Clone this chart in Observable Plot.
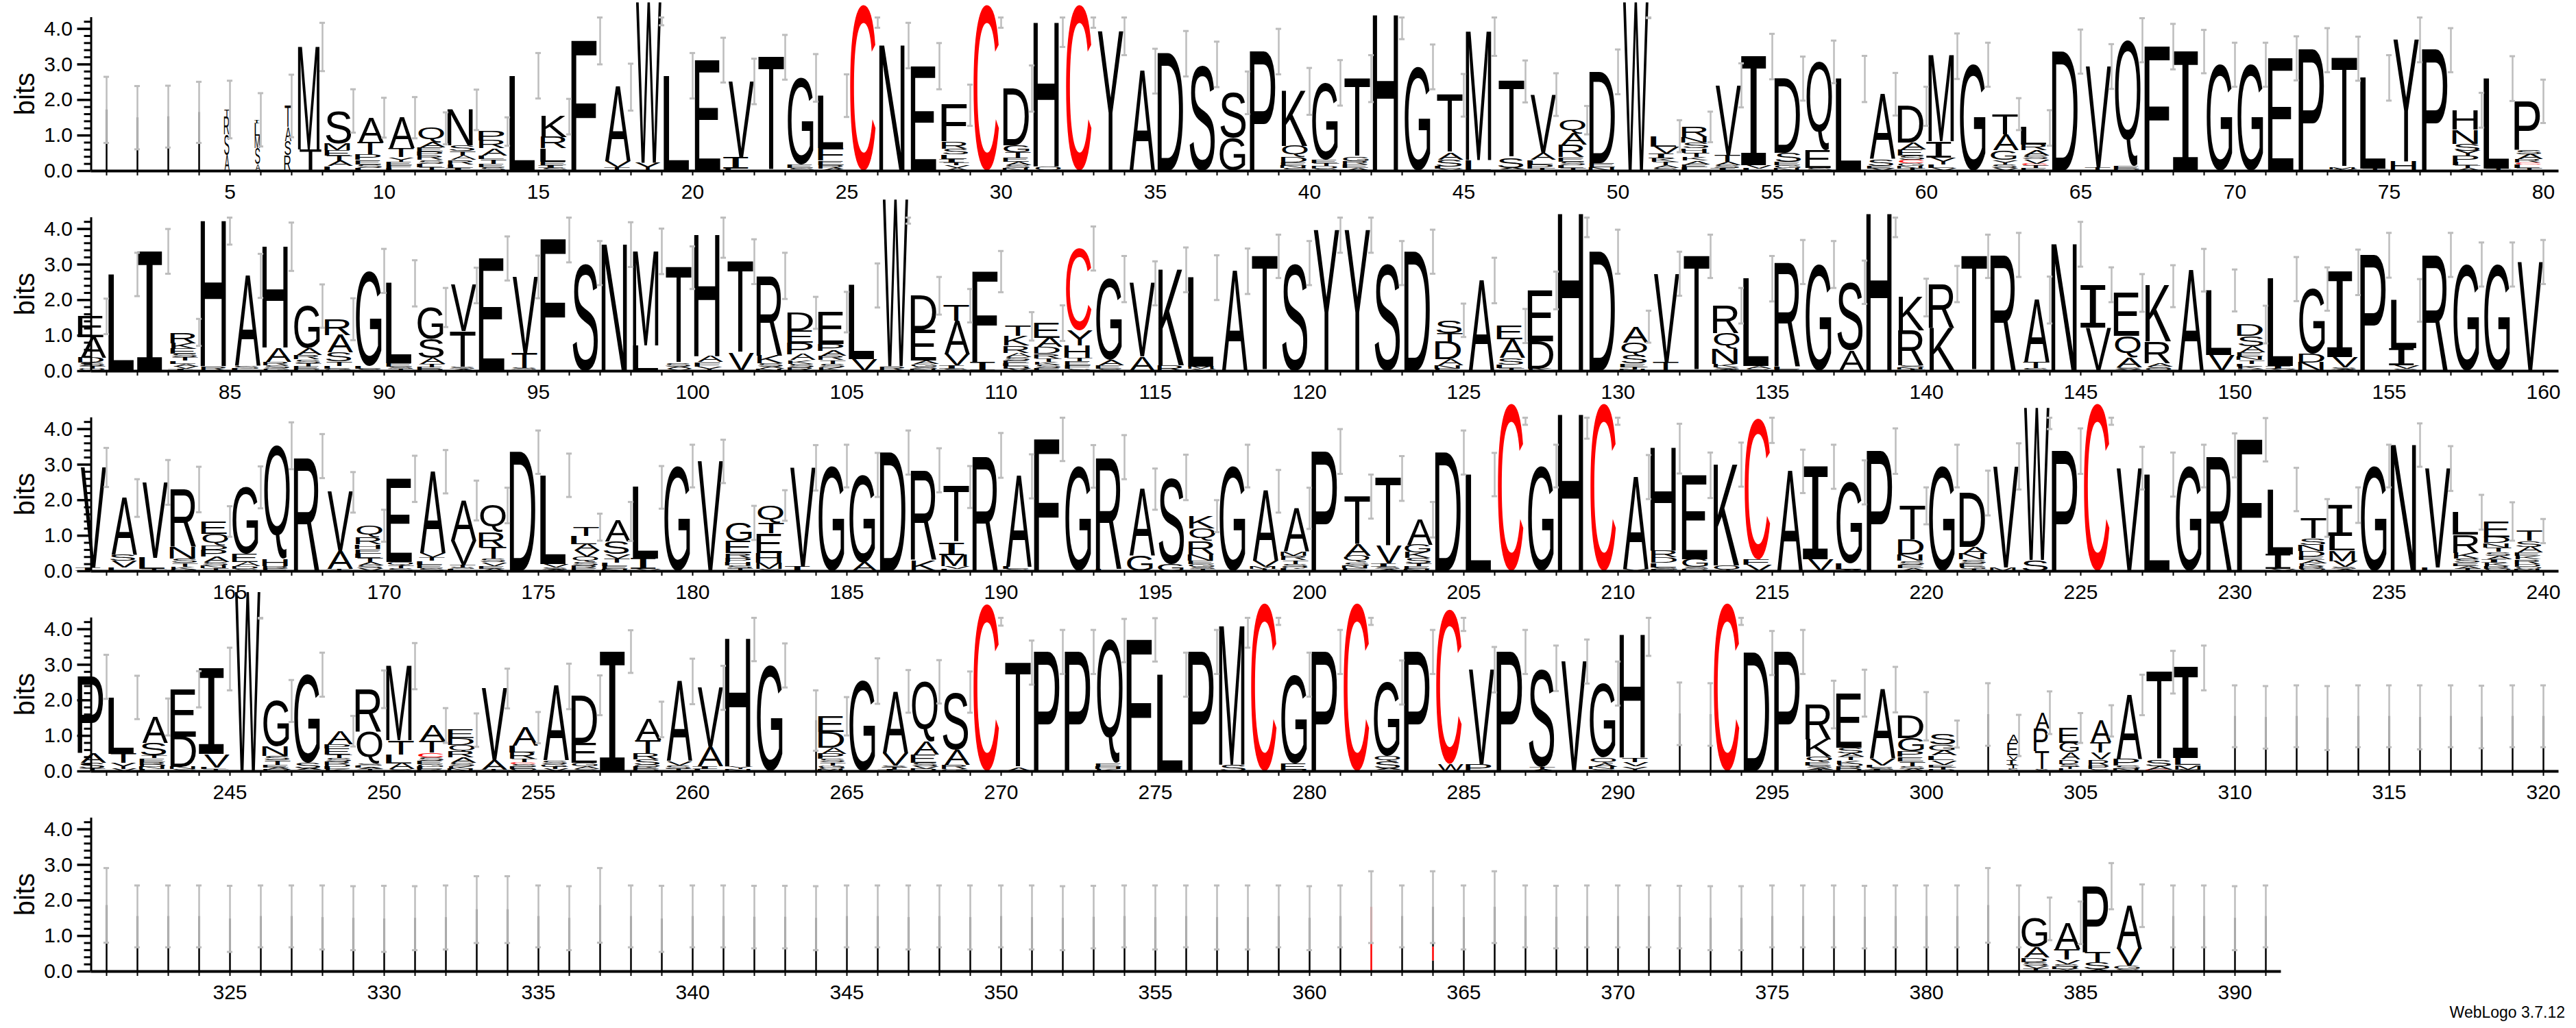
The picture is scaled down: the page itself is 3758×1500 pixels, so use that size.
<!DOCTYPE html>
<html><head><meta charset="utf-8">
<script src="https://cdn.jsdelivr.net/npm/d3@7"></script>
<script src="https://cdn.jsdelivr.net/npm/@observablehq/plot@0.6"></script>
<style>
body{margin:0;background:#fff;}
#chart{position:relative;width:3758px;height:1500px;overflow:hidden;background:#fff;}
#chart svg{display:block;overflow:visible;position:absolute;left:0;}
#credit{position:absolute;left:0;top:1464px;width:3742px;text-align:right;font:23px "Liberation Sans",Arial,sans-serif;color:#000;}
</style></head><body><div id="chart"><div id="credit">WebLogo 3.7.12</div></div>
<script>
// ---------- data (stacks listed top -> bottom, letter + height in bits) ----------
const yMax = 4.32;
const rowStarts = [1, 81, 161, 241, 321];
const rowEnds = [80, 160, 240, 320, 391];

const row1Stacks = ["L1.72","L1.5","L1.53","L1.65","T.2 R.5 S.6 A.43","I.1 L.35 M.35 S.46 A.18","T.6 A.4 S.4 R.43","M2.89 T.6","S.93 M.19 E.15 T.15 A.14 L.13","A.7 T.35 P.15 E.12 S.1 L.08",
"A.87 T.25 Y.13 E.1 F.08 L.07","Q.4 A.14 E.12 P.12 R.12 S.1 L.1 T.1","N1.0 S.16 T.13 A.13 R.13 L.1 I.07","P.26 R.22 A.2 L.1 T.13 E.1 S.1","L2.68","K.58 R.32 L.38 E.1 I.08 S.07","F3.66","A2.09 V.17 T.1","W4.53 Y.22","L2.68",
"E3.12","V2.15 I.32 L.05","T3.2","G2.45 E.1 S.07","L1.49 F.35 E.12 R.1 A.06","C4.67","N3.53","E2.95","F1.03 R.2 S.16 L.13 I.1 T.08 V.07 A.08","C4.67",
"D1.6 G.2 T.15 E.12 A.1 S.08 N.07","H4.05 Q.12","C4.67","Y3.93","A2.81","D3.3","S3.0","S1.28 G.92","P3.36","K1.55 Q.3 D.15 E.1 N.07 S.07",
"G2.17 E.1 T.08 D.08 S.05","T2.2 G.13 R.1 E.1 A.07","H4.38","G2.93","T1.62 A.2 S.2 L.06 V.05","M3.62 L.3","T2.15 S.29 A.05 N.03","V1.64 A.2 L.13 P.12 T.06","Q.38 A.32 R.35 E.12 S.1 L.08 T.08","D2.57 E.12 N.1",
"W4.75","L.3 V.2 I.13 K.1 T.1 A.08 S.07","R.3 N.15 S.16 H.13 T.12 K.1 A.1 E.08 L.1","V1.96 T.2 A.1 S.08 I.07","I3.06 V.1 L.06","D2.09 S.26 E.1 G.08 N.07","Q2.5 E.5 S.07","L2.59","A1.83 S.19 E.08 V.06","D1.03 A.2 E.16 S.12 C.1 G.08 N.07 T.06",
"M2.41 I.45 Y.19 L.1 V.08","G2.99","T.58 A.45 G.26 Y.13 S.1 V.08","L.48 R.16 A.14 S.1 V.13 C.05 T.08 E.07","D3.36","V2.84 T.1","Q3.55 E.08 D.05","F3.5","I3.36","G2.99",
"G2.99","E3.17","P3.4","T3.07 M.05 V.04","L2.57 T.05","Y3.44 H.26","P3.4","H.55 N.4 S.2 Y.14 P.16 L.1 T.08 A.08","L2.55 T.05","P1.36 S.13 A.14 R.1 C.05 L.1 T.08"];
const row1Errors = [.93,.89,.87,.86,.81,.75,.88,.68,.61,.56, .58,.45,.57,.4,.64,.5,.66,.66,.65,.64, .63,.64,.63,.67,.6,.64,.64,.65,.58,.64,
.65,.68,.64,.67,.63,.64,.64,.6,.64,.66, .64,.66,.67,.63,.6,.68,.59,.6,.4,.63, .45,.45,.43,.62,.64,.62,.6,.65,.6,.55,
.64,.62,.45,.5,.62,.63,.62,.64,.61,.62, .62,.62,.62,.62,.64,.64,.62,.49,.63,.61];
const row1Weights = [.06,.06,.06,.06,.2,.2,.25,.85,1,1, 1,1,1,1,1,1,1,1,1,1, 1,1,1,1,1,1,1,1,1,1, 1,1,1,1,1,1,1,1,1,1,
1,1,1,1,1,1,1,1,1,1, 1,1,1,1,1,1,1,1,1,1, 1,1,1,1,1,1,1,1,1,1, 1,1,1,1,1,1,1,1,1,1];

const row2Stacks = ["E.59 A.58 D.14 S.1 T.08 Q.05","L2.72","I3.37","R.31 K.16 E.14 S.1 T.1 L.08 A.08 V.07 I.05","H4.09 R.13","A2.54 S.08 L.06","H2.85 A.4 R.1 S.08 G.07","G1.19 A.19 R.13 S.1 T.1 E.07 D.05","R.46 A.48 S.26 T.13 L.08 G.05","G2.68 L.08 S.06",
"L2.26 E.1 S.06 T.05","G.9 S.53 A.16 T.1 E.06 D.04","V1.3 T1.0 S.06 A.05","E3.17","V2.15 T.42 S.05 A.03","F3.71","S3.04","N3.56","M2.65 L.72","T2.7 S.1 A.06 V.05",
"H3.42 A.16 F.13 Y.12","T2.58 V.5","R2.25 K.22 S.1 A.06 N.05","D.5 E.35 P.32 A.17 K.1 S.1 R.1","E.91 P.19 A.14 R.12 T.1 S.1 K.1","L2.09 V.32","W4.7 R.13","D.96 E.87 A.1 G.08 S.06 N.05","T.44 A.93 V.32 I.1 S.05","F2.54 I.26",
"T.29 K.26 R.2 A.12 S.1 E.08 L.08 D.07 V.06","E.42 A.26 D.19 R.13 T.1 K.08 S.1 F.07","C2.31 Y.42 H.35 T.1 E.12 F.1 S.05","G2.28 A.15 E.1 S.06","V2.07 A.4","K2.7 R.15","L2.52 M.06 V.05","A2.81","T3.23","S3.04",
"Y3.97","Y3.97","S3.04","D3.36","S.37 T.26 D.48 A.16 N.1 E.06","A2.55","E.39 A.51 S.19 L.1 T.08","E1.44 D.77 K.06","H4.42","D3.36",
"A.45 Q.38 S.22 E.1 T.06 N.04","V2.5 T.24","T3.23","R.77 Q.45 N.42 K.1 S.06 A.04","L2.47 A.08 S.05","R2.95 L.08 E.04","G3.0","S1.93 A.57","H4.42","K.93 R.99 S.06 N.05 T.04",
"R1.25 K1.2","T3.23","R3.27","A1.77 T.16 S.07","N3.57","I1.21 V1.22","E1.22 Q.61 A.27 S.06 V.04","K1.57 R.61 A.1 S.06 Q.05","A2.84","L1.83 V.44",
"D.33 S.29 A.16 E.13 N.1 T.1 L.08 K.07 G.05","L2.46 I.08 V.05","G1.83 D.24 N.24","I2.4 V.29 S.05 A.04","P3.26","L1.35 I.48 V.1 S.06","R3.27","G3.0","G3.0","V3.07"];
const row2Errors = [.5,.61,.63,.38,.66,.62,.68,.61,.59,.62, .65,.55,.5,.62,.6,.65,.62,.63,.64,.6, .64,.63,.65,.45,.57,.62,.68,.53,.47,.58,
.4,.5,.62,.65,.62,.63,.63,.64,.61,.62, .64,.64,.62,.62,.47,.64,.48,.53,.65,.62, .45,.62,.61,.5,.64,.62,.66,.61,.65,.53,
.51,.61,.62,.66,.63,.49,.53,.59,.6,.59, .53,.62,.61,.64,.63,.6,.62,.62,.62,.62];

const row3Stacks = ["V2.82 I.1","A1.6 S.17 V.19 L.1","V2.13 L.32 T.05","R1.63 N.32 S.13 T.1 K.08 G.04","E.35 Q.32 D.13 P.19 A.15 S.1 N.08 T.08","G1.89 E.22 A.12 D.08 S.05","Q3.19 H.2 R.08 E.06","R3.24","V1.67 A.5 T.05","Q.32 R.21 H.13 E.13 L.12 T.12 A.1 S.08 V.07",
"E2.35 Q.1 T.08 S.07","A2.3 V.12 T.1 L.1 E.1 S.08","A1.14 V.67 T.08 S.05 L.05","Q.77 R.42 T.32 S.1 V.1 E.08 A.06","D3.35","L2.5 V.1 S.06 A.04","T.26 L.22 A.19 V.16 Q.16 S.1 R.07 E.08","A.58 S.35 V.12 T.12 L.1 E.08 N.05","L2.02 I.29 V.05","G2.96",
"V3.09","G.51 E.35 R.13 P.12 H.1 S.08 T.07","Q.51 T.29 E.55 H.26 M.18 S.06","V2.79 I.12","G2.96","G2.47 A.24","D3.34","R2.54 K.3","T1.57 I.35 M.32 V.08 L.05","R3.26",
"A2.56 L.06 S.05","F3.71","G2.95","R3.16 L.05","A1.87 G.44","S2.44 G.2","K.35 Q.35 R.38 N.18 E.1 G.08 S.06 T.05","G2.96","A1.97 V.17 M.06 T.05","A1.22 M.13 R.12 T.1 S.08 Q.06 L.06",
"P3.37","T1.35 A.32 Q.19 S.1 N.07 E.07","T1.92 V.48 I.1 S.06 A.05","A.71 G.22 K.16 S.15 T.08 E.08 N.05","D3.34","L2.72","C4.71","G2.96","H4.4","C4.71",
"A2.6 V.05","H2.88 R.19 D.15 L.13 S.06 E.04","E2.37 G.22 S.06 D.05","K2.85 Q.15","C3.97 F.15 V.17","A2.81","I2.62 V.32","G2.28 L.18 A.04","P3.38","T.96 D.42 N.18 S.1 E.1 A.08",
"G2.96","D1.52 A.2 N.16 S.1 E.1 G.07 T.05","V2.85 M.1","W4.29 S.31","P3.38","C4.71","V2.9","L2.72","G2.96","R3.26",
"F3.7","L1.83 I.42 V.05","T.58 S.19 N.17 D.15 E.1 A.1 K.08 R.07 Q.06","I.87 L.42 M.3 V.16 S.06 A.05","G2.96","N3.55","V2.79 L.1","L.64 R.51 K.16 S.13 E.08 A.08 T.06","E.45 D.16 N.13 T.13 S.1 A.1 I.1 K.1 R.08 Q.05","T.29 S.16 A.16 E.1 K.1 R.13 D.08 Q.06 N.05"];
const row3Errors = [.55,.53,.63,.64,.43,.59,.66,.62,.57,.45, .65,.61,.56,.5,.61,.61,.38,.55,.6,.6, .61,.48,.43,.64,.6,.62,.62,.62,.59,.63,
.62,.61,.6,.62,.58,.64,.45,.6,.6,.58, .63,.62,.63,.5,.62,.61,.59,.6,.67,.59, .62,.7,.64,.62,.68,.61,.62,.62,.64,.52,
.6,.63,.65,.6,.64,.59,.6,.62,.6,.62, .61,.61,.53,.5,.6,.61,.63,.49,.54,.34];

const row4Stacks = ["P2.14 A.28 S.16 T.08","L1.59 T.27 Y.16 V.06","A.74 S.35 T.08 E.1 R.08 D.07 N.06 L.05","E1.34 D.86 N.06 S.05","I2.4 V.38 L.05 T.05","W5.05","G1.29 N.26 S.13 T.12 E.08 A.06 D.04","G2.48 S.16 A.05 T.03","A.37 P.13 E.16 T.1 S.1 R.08 D.08 L.06 K.05","R1.2 Q.9 S.06 L.05 A.05 T.05",
"M2.1 T.4 L.24 A.16 S.06","A.45 T.32 C.13 S.1 E.1 G.08 L.06 R.05","E.24 D.19 Q.19 R.16 A.14 S.1 K.08 N.06","V2.02 A.27 T.04","A.51 L.19 R.19 T.1 C.04 S.08 E.06 Q.06","A2.09 S.1 G.08 T.06 V.06","D1.34 E.56 G.1 A.08 S.06","I3.37","A.59 T.37 R.17 S.16 Q.06 E.06 D.05","A2.25 V.12 S.1 T.06",
"V1.68 A.54 I.08 L.05","H3.6 Y.08 N.05","G2.98","L1.43","E.45 D.45 A.16 P.15 S.1 T.08 G.06 Q.06 N.04","G2.54","A1.74 V.35 S.06 T.06 I.04","Q1.68 A.38 E.22 S.1 V.08 D.06","S1.63 A.42 R.12 G.06","C4.7",
"T2.96 A.1","P3.36","P3.36","Q3.46 E.1 H.07 K.05","F3.7","L2.72","P3.36","M3.9 S.18","C4.72","G2.5 E.18 D.04",
"P3.36","C4.72","G2.08 Q.15 S.2 A.04 T.03","P3.36","C4.35 W.2","V2.66 P.2","P3.36","S2.78 T.08 A.04","V3.09","G2.09 Q.17 A.1 N.06 S.05",
"H3.46 T.13 V.12 Y.13","L1.62","L1.6","C4.72","D3.33","P3.36","R.99 K.48 Q.16 E.1 S.06 A.05 T.04","E1.54 S.16 A.1 T.1 K.1 Q.08 R.06 D.06","A1.95 V.2 L.06 S.05 I.04","D.63 G.37 P.15 E.13 T.13 S.08 A.06",
"S.31 G.16 A.14 L.13 V.13 E.08 T.06 D.04","L1.6","A.22 E.35 V.13 I.13 T.1 S.08","A.45 P.64 T.5 S.06","E.42 G.27 A.2 D.13 S.08 T.06 L.06","A.61 T.29 V.2 R.16 P.1 S.06","A1.8 P.19 S.1 N.06","T2.48 S.17 A.1 C.04","I2.55 L.19 M.13 S.04","L1.55",
"L1.52","L1.55","L1.5","L1.55","L1.55","L1.52","L1.55","L1.53","L1.55","L1.55"];
const row4Errors = [.62,.61,.52,.51,.6,.75,.59,.62,.43,.53, .65,.49,.47,.56,.44,.64,.56,.6,.5,.64, .62,.63,.62,.85,.54,.64,.6,.61,.58,.6,
.62,.62,.62,.61,.61,.62,.62,.6,.6,.62, .62,.6,.62,.62,.6,.64,.62,.64,.62,.62, .59,.88,.88,.6,.62,.62,.67,.66,.64,.68,
.38,.88,.58,.6,.42,.44,.57,.6,.63,.87, .88,.87,.9,.87,.87,.9,.87,.88,.87,.87];
const row4Weights = [1,1,1,1,1,1,1,1,1,1, 1,1,1,1,1,1,1,1,1,1, 1,1,1,.06,1,1,1,1,1,1,
1,1,1,1,1,1,1,1,1,1, 1,1,1,1,1,1,1,1,1,1, 1,.06,.06,1,1,1,1,1,1,1,
1,.06,.4,.55,.75,.8,1,1,1,.06, .06,.06,.06,.06,.06,.06,.06,.06,.06,.06];

const row5Stacks = ["L1.86","L1.55","L1.55","L1.55","L1.48","L1.55","L1.55","L1.52","L1.5","L1.48",
"L1.5","L1.52","L1.74","L1.74","L1.55","L1.5","L1.86","L1.55","L1.48","L1.55",
"L1.55","L1.53","L1.53","L1.5","L1.55","L1.55","L1.52","L1.55","L1.52","L1.55",
"L1.52","L1.5","L1.53","L1.55","L1.52","L1.55","L1.52","L1.52","L1.55","L1.5",
"L1.55","C1.81","L1.55","L1.12 C.39 S.3","L1.52","L1.81","L1.55","L1.53","L1.55","L1.55",
"L1.55","L1.53","L1.5","L1.5","L1.55","L1.55","L1.55","L1.53","L1.55","L1.55",
"L1.55","L1.86","L1.55","G.8 A.29 D.13 S.1 V.08 T.08","A.75 T.3 V.12 S.08 D.06 Y.06","P1.86 T.29 S.2 A.05","A1.22 V.48 G.1 S.05","L1.55","L1.55","L1.5",
"L1.55"];
const row5Errors = [1.05,.87,.87,.87,.93,.87,.87,.9,.9,.93, .9,.9,.94,.94,.87,.9,1.05,.87,.93,.87,
.87,.88,.88,.9,.87,.87,.9,.87,.9,.87, .9,.9,.88,.87,.9,.87,.9,.9,.87,.9,
.87,1.01,.87,1.01,.9,1.01,.87,.88,.87,.87, .87,.88,.9,.9,.87,.87,.87,.88,.87,.87,
.87,1.05,.87,.6,.6,.65,.6,.87,.87,.9, .87];
const row5Weights = [.06,.06,.06,.06,.06,.06,.06,.06,.06,.06, .06,.06,.06,.06,.06,.06,.06,.06,.06,.06,
.06,.06,.06,.06,.06,.06,.06,.06,.06,.06, .06,.06,.06,.06,.06,.06,.06,.06,.06,.06,
.06,.06,.06,.06,.06,.06,.06,.06,.06,.06, .06,.06,.06,.06,.06,.06,.06,.06,.06,.06,
.06,.06,.06,1,1,1,1,.06,.06,.06, .06];

// ---------- build ----------
const rows = [
  {stacks: row1Stacks, errors: row1Errors, weights: row1Weights},
  {stacks: row2Stacks, errors: row2Errors},
  {stacks: row3Stacks, errors: row3Errors},
  {stacks: row4Stacks, errors: row4Errors, weights: row4Weights},
  {stacks: row5Stacks, errors: row5Errors, weights: row5Weights}
];

const ctx = document.createElement("canvas").getContext("2d");
const fontFor = ch => ch === "I" ? '"DejaVu Sans Mono"' : '"Liberation Sans"';
const metricCache = {};
function glyph(ch) {
  if (!metricCache[ch]) {
    ctx.font = `100px ${fontFor(ch)}`;
    const m = ctx.measureText(ch);
    metricCache[ch] = {l: m.actualBoundingBoxLeft, r: m.actualBoundingBoxRight, a: m.actualBoundingBoxAscent, d: m.actualBoundingBoxDescent};
  }
  return metricCache[ch];
}
const letterColor = ch => ch === "C" ? "#ff0000" : "#000000";

function logoMark(letters) {
  return function (...args) {
    const scales = args.find(a => a && typeof a.x === "function" && typeof a.y === "function");
    const g = d3.create("svg:g");
    const colW = scales.x(1) - scales.x(0);
    for (const L of letters) {
      const yb = scales.y(L.y0), yt = scales.y(L.y1);
      if (yb - yt < 0.2) continue;
      const half = colW * 0.415 * L.w;
      const cx = scales.x(L.pos);
      const m = glyph(L.letter);
      const sx = (2 * half) / (m.l + m.r), sy = (yb - yt) / (m.a + m.d);
      g.append("text")
        .attr("transform", `translate(${cx - half},${yt}) scale(${sx},${sy}) translate(${m.l},${m.a})`)
        .style("font-family", fontFor(L.letter))
        .style("font-size", "100px")
        .attr("fill", letterColor(L.letter))
        .text(L.letter);
    }
    return g.node();
  };
}

function axisTitle(start, label) {
  return function (...args) {
    const scales = args.find(a => a && typeof a.x === "function" && typeof a.y === "function");
    const g = d3.create("svg:g");
    const x = scales.x(start - 0.5) - 97, y = scales.y(yMax / 2);
    g.append("text")
      .attr("transform", `translate(${x},${y}) rotate(-90)`)
      .attr("text-anchor", "middle")
      .attr("dominant-baseline", "central")
      .style("font-family", '"Liberation Sans", Arial, sans-serif')
      .style("font-size", "40px")
      .attr("fill", "#000")
      .text(label);
    return g.node();
  };
}

const chart = document.getElementById("chart");
const minorTicks = d3.range(1, 22).map(i => i / 5).filter(v => Math.abs(v - Math.round(v)) > 1e-6);

rows.forEach((row, r) => {
  const start = rowStarts[r], end = rowEnds[r];
  if (row.stacks.length !== end - start + 1 || row.errors.length !== end - start + 1) throw new Error("length mismatch row " + (r + 1) + ": " + row.stacks.length + "/" + row.errors.length);
  const letters = [], thin = [], bars = [], caps = [];
  row.stacks.forEach((s, i) => {
    const pos = start + i;
    const w = row.weights ? row.weights[i] : 1;
    const toks = s.trim().split(/\s+/).map(t => ({letter: t[0], h: +t.slice(1)}));
    let y = 0;
    for (const t of toks.slice().reverse()) {
      const seg = {pos, letter: t.letter, y0: y, y1: y + t.h, w};
      if (w <= 0.1) thin.push(seg); else letters.push(seg);
      y += t.h;
    }
    const e = row.errors[i];
    const lo = Math.max(0, y - e), hi = Math.min(yMax, y + e);
    bars.push({pos, lo, hi});
    caps.push({y: lo, x1: pos - 0.09, x2: pos + 0.09});
    caps.push({y: hi, x1: pos - 0.09, x2: pos + 0.09});
  });

  const svg = Plot.plot({
    width: 3758, height: 292,
    marginLeft: 132.5, marginRight: 25.5, marginTop: 25, marginBottom: 43,
    style: {fontFamily: '"Liberation Sans", Arial, sans-serif', fontSize: "30px", background: "transparent", overflow: "visible"},
    x: {domain: [start - 0.5, start + 79.5], label: null},
    y: {domain: [0, yMax], label: null},
    marks: [
      logoMark(letters),
      Plot.ruleX(thin, {x: "pos", y1: "y0", y2: "y1", stroke: d => letterColor(d.letter), strokeWidth: 2.5}),
      Plot.ruleX(bars, {x: "pos", y1: "lo", y2: "hi", stroke: "#bdbdbd", strokeWidth: 2.5}),
      Plot.ruleY(caps, {y: "y", x1: "x1", x2: "x2", stroke: "#bdbdbd", strokeWidth: 3}),
      Plot.ruleY([0], {x1: start - 0.5, x2: end + 0.5, strokeWidth: 4, stroke: "#000"}),
      Plot.ruleX([start - 0.5], {y1: 0, y2: yMax, strokeWidth: 3, stroke: "#000"}),
      Plot.axisY({ticks: [0, 1, 2, 3, 4], tickFormat: d3.format(".1f"), tickSize: 20, tickPadding: 7, strokeWidth: 3.5, label: null}),
      Plot.axisY({ticks: minorTicks, tickFormat: () => "", tickSize: 10, strokeWidth: 3, label: null}),
      Plot.axisX({ticks: d3.range(start, end + 1), tickFormat: d => d % 5 === 0 ? String(d) : "", tickSize: 7, tickPadding: 12, strokeWidth: 2, label: null}),
      axisTitle(start, "bits")
    ]
  });
  svg.style.top = (r * 292) + "px";
  chart.appendChild(svg);
});
</script>
</body></html>
